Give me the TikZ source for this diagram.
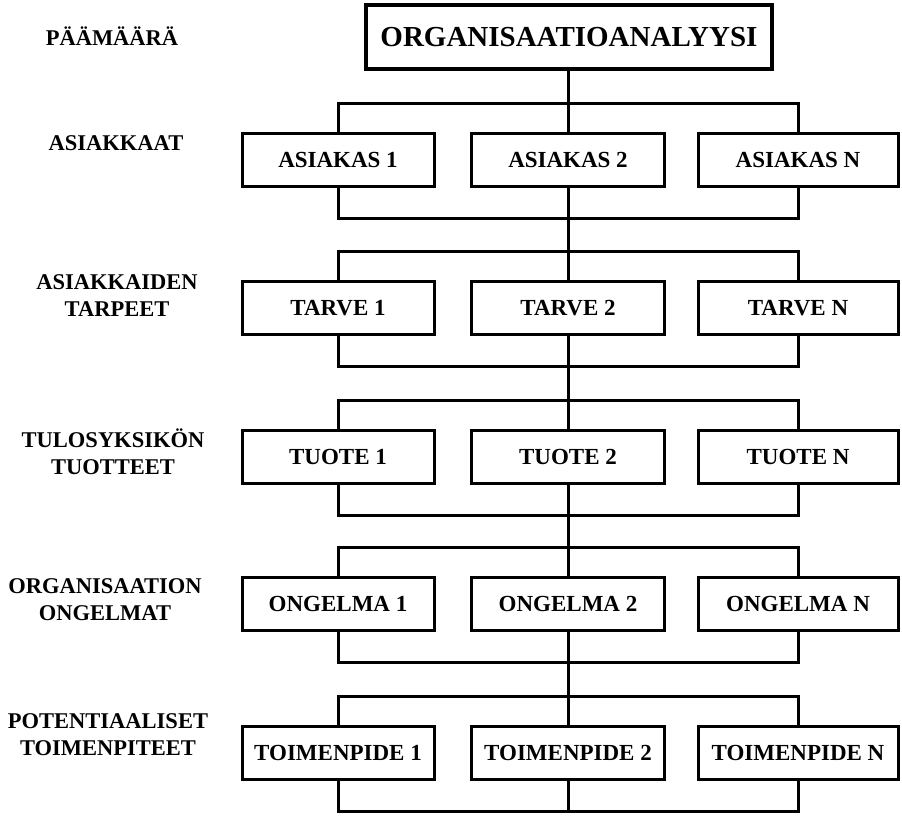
\documentclass[tikz,border=0pt]{standalone}
\usepackage{fontspec}
\setmainfont{Liberation Serif}
\begin{document}
\begin{tikzpicture}[x=1pt,y=-1pt,
  wire/.style={line width=3pt,line cap=rect},
  goalbox/.style={draw,line width=4.5pt,minimum width=406pt,minimum height=64pt,
    inner sep=0pt,font=\fontsize{29}{33}\selectfont\bfseries},
  itembox/.style={draw,line width=3pt,minimum height=53pt,inner sep=0pt,
    font=\fontsize{23}{27}\selectfont\bfseries},
  colA/.style={itembox,minimum width=192pt},
  colB/.style={itembox,minimum width=193pt},
  colC/.style={itembox,minimum width=200pt},
  levellabel/.style={align=center,inner sep=0pt,
    font=\fontsize{22.5}{27}\selectfont\bfseries}]
\useasboundingbox (0,0) rectangle (902,817);

% goal
\node[goalbox] (goal) at (569,37) {ORGANISAATIOANALYYSI};

% level labels
\node[levellabel] (l0) at (112,36) {PÄÄMÄÄRÄ};
\node[levellabel] (l1) at (116,143) {ASIAKKAAT};
\node[levellabel] (l2) at (117,296) {ASIAKKAIDEN\\TARPEET};
\node[levellabel] (l3) at (113,452) {TULOSYKSIKÖN\\TUOTTEET};
\node[levellabel] (l4) at (105,600) {ORGANISAATION\\ONGELMAT};
\node[levellabel] (l5) at (108,735) {POTENTIAALISET\\TOIMENPITEET};

% boxes, one row per level
\foreach \r/\y/\a/\b/\c in {
  1/160/ASIAKAS 1/ASIAKAS 2/ASIAKAS N,
  2/308/TARVE 1/TARVE 2/TARVE N,
  3/457/TUOTE 1/TUOTE 2/TUOTE N,
  4/604/ONGELMA 1/ONGELMA 2/ONGELMA N,
  5/753/TOIMENPIDE 1/TOIMENPIDE 2/TOIMENPIDE N}{
  \node[colA] (b\r1) at (338,\y) {\a};
  \node[colB] (b\r2) at (568,\y) {\b};
  \node[colC] (b\r3) at (798,\y) {\c};
  \coordinate (u\r) at (568,\y-57);
  \coordinate (d\r) at (568,\y+58);
}
\coordinate (d0) at (goal.south -| u1);

% branching bars above and below each row, joined by the spine
\foreach \r [evaluate=\r as \p using int(\r-1)] in {1,...,5}{
  \draw[wire] (d\p) -- (u\r);
  \draw[wire] (b\r1.north) |- (u\r) -| (b\r3.north);
  \draw[wire] (u\r) -- (b\r2.north);
  \draw[wire] (b\r1.south) |- (d\r) -| (b\r3.south);
  \draw[wire] (b\r2.south) -- (d\r);
}
\end{tikzpicture}
\end{document}
